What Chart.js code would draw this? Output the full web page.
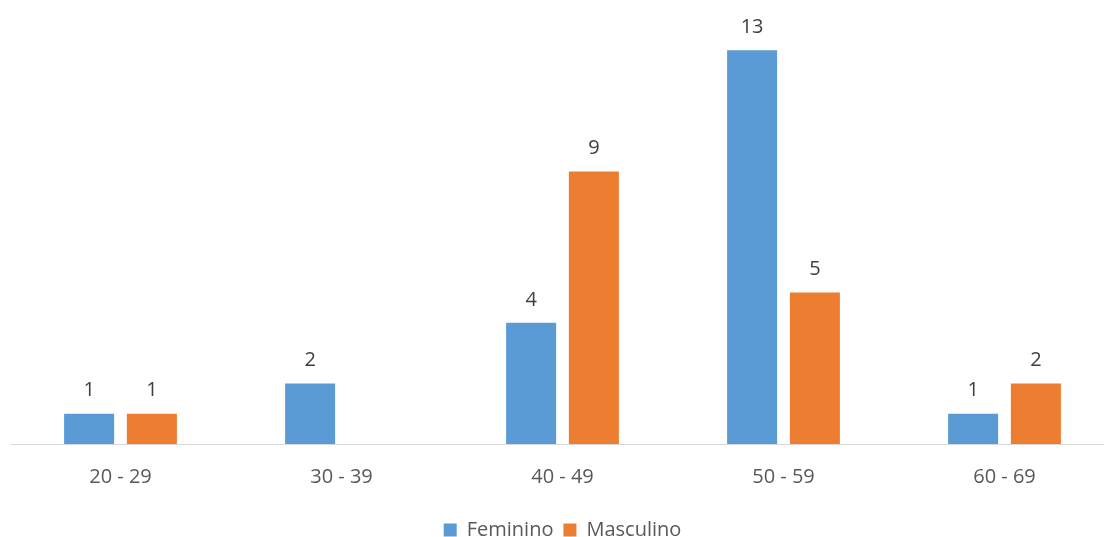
<!DOCTYPE html>
<html>
<head>
<meta charset="utf-8">
<script src="https://cdn.jsdelivr.net/npm/chart.js@4.4.1/dist/chart.umd.min.js"></script>
<style>
  html, body { margin: 0; padding: 0; background: #fff; overflow: hidden; }
  #wrap { width: 1115px; height: 550px; }
</style>
</head>
<body>
<div id="wrap"><canvas id="ageChart"></canvas></div>
<script>
// age groups and counts
const categories = ['20 - 29', '30 - 39', '40 - 49', '50 - 59', '60 - 69'];
const feminino = [1, 2, 4, 13, 1];
const masculino = [1, null, 9, 5, 2];
const yMax = 14;

const textColor = '#595959';
const fontFamily = '"Open Sans", sans-serif';

// Draw the value above every bar
const valueLabels = {
  id: 'valueLabels',
  afterDatasetsDraw(chart) {
    const ctx = chart.ctx;
    ctx.save();
    ctx.font = `20px ${fontFamily}`;
    ctx.fillStyle = '#404040';
    ctx.textAlign = 'center';
    ctx.textBaseline = 'middle';
    chart.data.datasets.forEach((ds, i) => {
      const meta = chart.getDatasetMeta(i);
      meta.data.forEach((bar, j) => {
        const v = ds.data[j];
        if (v === null || v === undefined) return;
        ctx.fillText(String(v), bar.x, bar.y - 23);
      });
    });
    ctx.restore();
  }
};

const ctx = document.getElementById('ageChart').getContext('2d');
new Chart(ctx, {
  type: 'bar',
  data: {
    labels: categories,
    datasets: [
      {
        label: 'Feminino',
        data: feminino,
        backgroundColor: '#5B9BD5',
        categoryPercentage: 0.568,
        barPercentage: 0.797
      },
      {
        label: 'Masculino',
        data: masculino,
        backgroundColor: '#ED7D31',
        categoryPercentage: 0.568,
        barPercentage: 0.797
      }
    ]
  },
  options: {
    responsive: true,
    maintainAspectRatio: false,
    animation: false,
    layout: { padding: { top: 20, left: 10, right: 0, bottom: 0 } },
    scales: {
      x: {
        grid: { display: false, drawTicks: false },
        border: { display: true, color: '#d9d9d9', width: 1 },
        ticks: { color: textColor, font: { family: fontFamily, size: 20, lineHeight: 1.0 }, padding: 23 }
      },
      y: {
        display: false,
        min: 0,
        max: yMax
      }
    },
    plugins: {
      legend: {
        position: 'bottom',
        labels: {
          color: textColor,
          font: { family: fontFamily, size: 20 },
          boxWidth: 13,
          boxHeight: 13,
          padding: 10
        }
      },
      tooltip: { enabled: false }
    }
  },
  plugins: [valueLabels]
});
</script>
</body>
</html>
